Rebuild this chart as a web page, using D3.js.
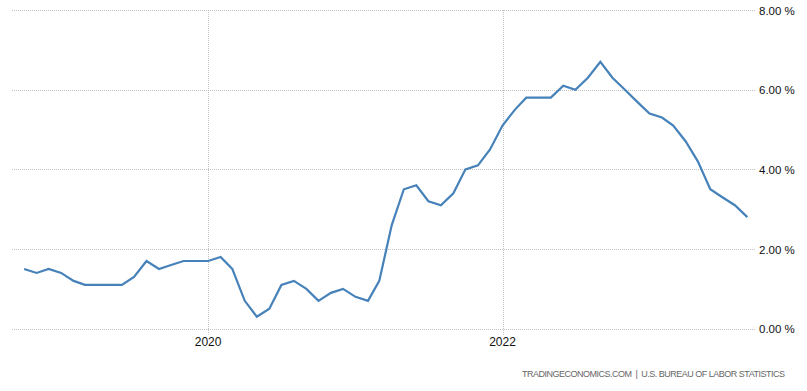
<!DOCTYPE html>
<html>
<head>
<meta charset="utf-8">
<script src="https://cdn.jsdelivr.net/npm/d3@7"></script>
<style>
  html, body { margin: 0; padding: 0; background: #fff; }
  svg { display: block; }
</style>
</head>
<body>
<svg id="chart" width="807" height="391"></svg>
<script>
const months = [
  "2018-10","2018-11","2018-12",
  "2019-01","2019-02","2019-03","2019-04","2019-05","2019-06","2019-07","2019-08","2019-09","2019-10","2019-11","2019-12",
  "2020-01","2020-02","2020-03","2020-04","2020-05","2020-06","2020-07","2020-08","2020-09","2020-10","2020-11","2020-12",
  "2021-01","2021-02","2021-03","2021-04","2021-05","2021-06","2021-07","2021-08","2021-09","2021-10","2021-11","2021-12",
  "2022-01","2022-02","2022-03","2022-04","2022-05","2022-06","2022-07","2022-08","2022-09","2022-10","2022-11","2022-12",
  "2023-01","2023-02","2023-03","2023-04","2023-05","2023-06","2023-07","2023-08","2023-09"
];
const values = [
  1.5, 1.4, 1.5,
  1.4, 1.2, 1.1, 1.1, 1.1, 1.1, 1.3, 1.7, 1.5, 1.6, 1.7, 1.7,
  1.7, 1.8, 1.5, 0.7, 0.3, 0.5, 1.1, 1.2, 1.0, 0.7, 0.9, 1.0,
  0.8, 0.7, 1.2, 2.6, 3.5, 3.6, 3.2, 3.1, 3.4, 4.0, 4.1, 4.5,
  5.1, 5.5, 5.8, 5.8, 5.8, 6.1, 6.0, 6.3, 6.7, 6.3, 6.0, 5.7,
  5.4, 5.3, 5.1, 4.7, 4.2, 3.5, 3.3, 3.1, 2.8
];
const yTicks = [0, 2, 4, 6, 8];
const xTickLabels = ["2020", "2022"];
const sourceText = "TRADINGECONOMICS.COM  |  U.S. BUREAU OF LABOR STATISTICS";

const parse = d3.timeParse("%Y-%m");
const data = months.map((m, i) => ({ date: parse(m), value: values[i] }));

const svg = d3.select("#chart");
const plotLeft = 12, plotRight = 755, plotTop = 10, plotBottom = 328.7;

const x = d3.scaleTime()
  .domain([new Date(2018, 8, 1), new Date(2023, 8, 20)])
  .range([plotLeft, plotRight]);
const y = d3.scaleLinear().domain([0, 8]).range([plotBottom, plotTop]);

const gridColor = "#c4c4c4";

// horizontal grid
svg.append("g").selectAll("line").data(yTicks).join("line")
  .attr("x1", plotLeft).attr("x2", plotRight)
  .attr("y1", d => Math.round(y(d)) + 0.5).attr("y2", d => Math.round(y(d)) + 0.5)
  .attr("stroke", gridColor).attr("stroke-width", 1)
  .attr("stroke-dasharray", "1,1");

// vertical grid (years)
const xTickDates = xTickLabels.map(s => d3.timeParse("%Y")(s));
svg.append("g").selectAll("line").data(xTickDates).join("line")
  .attr("x1", d => Math.round(x(d)) + 0.5).attr("x2", d => Math.round(x(d)) + 0.5)
  .attr("y1", plotTop).attr("y2", plotBottom + 6)
  .attr("stroke", gridColor).attr("stroke-width", 1)
  .attr("stroke-dasharray", "1,1");

// y labels
svg.append("g").selectAll("text").data(yTicks).join("text")
  .attr("x", 759).attr("y", d => y(d) + 4.5)
  .attr("font-family", "Liberation Sans, Arial, sans-serif")
  .attr("font-size", "11.5px").attr("fill", "#111")
  .text(d => d3.format(".2f")(d) + " %");

// x labels
svg.append("g").selectAll("text").data(xTickDates).join("text")
  .attr("x", d => x(d)).attr("y", 346)
  .attr("text-anchor", "middle")
  .attr("font-family", "Liberation Sans, Arial, sans-serif")
  .attr("font-size", "12px").attr("fill", "#111")
  .text(d => d3.timeFormat("%Y")(d));

// line
const line = d3.line().x(d => x(d.date)).y(d => y(d.value));
svg.append("path").datum(data)
  .attr("d", line)
  .attr("fill", "none")
  .attr("stroke", "#4682b9")
  .attr("stroke-width", 2.2)
  .attr("stroke-linejoin", "miter");

// source
svg.append("text")
  .attr("x", 522).attr("y", 376.5)
  .attr("font-family", "Liberation Sans, Arial, sans-serif")
  .attr("font-size", "9px").attr("fill", "#666")
  .attr("textLength", 263).attr("lengthAdjust", "spacing")
  .style("white-space", "pre")
  .text(sourceText);
</script>
</body>
</html>
